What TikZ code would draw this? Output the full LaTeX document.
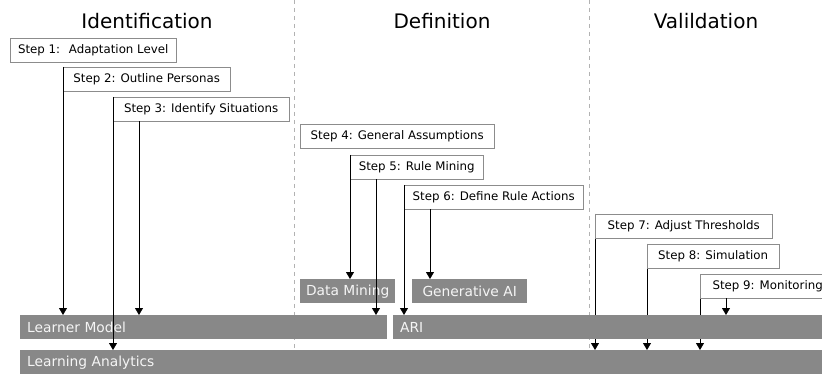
\documentclass[tikz,border=0pt]{standalone}
\usepackage{fontspec}
\setmainfont{DejaVu Sans}
\usetikzlibrary{arrows.meta}
\definecolor{barGray}{HTML}{888888}
\pgfdeclarelayer{background}
\pgfsetlayers{background,main}

\begin{document}
\begin{tikzpicture}[x=1pt, y=-1pt,
    stepbox/.style={draw=black!45, fill=white, anchor=north west, minimum height=24pt, inner sep=0pt, font=\fontsize{11.8}{14}\selectfont},
    bar/.style={fill=barGray, text=black!4, anchor=north west, minimum height=24pt, inner sep=0pt, font=\fontsize{13.8}{16}\selectfont},
    wide bar/.style={bar, align=left, text width=#1, inner xsep=7pt},
    phase/.style={anchor=base, font=\fontsize{20}{24}\selectfont},
    divider/.style={draw=black!30, dash pattern=on 4pt off 4pt},
    arr/.style={-{Triangle[width=8pt,length=7pt]}, line width=0.8pt}]

    \useasboundingbox (0,0) rectangle (822,374);

    % Phases:
    \draw[divider] (294,0) -- (294,374);
    \draw[divider] (589,0) -- (589,374);
    \node[phase] (idf) at (147,29) {Identification};
    \node[phase] (def) at (442,29) {Definition};
    \node[phase] (val) at (706,29) {Valildation};

    % Steps:
    \node[stepbox, minimum width=166pt] (s1) at (10,38) {Step 1:~ Adaptation Level};
    \node[stepbox, minimum width=167pt] (s2) at (63,67) {Step 2: Outline Personas};
    \node[stepbox, minimum width=176pt] (s3) at (113,97) {Step 3: Identify Situations};
    \node[stepbox, minimum width=194pt] (s4) at (300,124) {Step 4: General Assumptions};
    \node[stepbox, minimum width=133pt] (s5) at (350,155) {Step 5: Rule Mining};
    \node[stepbox, minimum width=179pt] (s6) at (404,185) {Step 6: Define Rule Actions};
    \node[stepbox, minimum width=177pt] (s7) at (595,214) {Step 7: Adjust Thresholds};
    \node[stepbox, minimum width=132pt] (s8) at (647,244) {Step 8: Simulation};
    \node[stepbox, minimum width=135pt] (s9) at (700,274) {Step 9: Monitoring};

    % Components:
    \node[bar, minimum width=95pt] (dm) at (300,279) {Data Mining};
    \node[bar, minimum width=115pt] (gai) at (412,279) {Generative AI};
    \node[wide bar=353pt] (lm) at (20,315) {Learner Model};
    \node[wide bar=415pt] (ari) at (393,315) {ARI};
    \node[wide bar=788pt] (la) at (20,350) {Learning Analytics};

    % Arrows:
    \draw[arr] (s2.north west) -- (s2.north west |- lm.north);
    \draw[arr] (s3.north west) -- (s3.north west |- la.north);
    \draw[arr] ([xshift=26pt]s3.south west) -- ([xshift=26pt]s3.south west |- lm.north);
    \draw[arr] (s5.north west) -- (s5.north west |- dm.north);
    \draw[arr] ([xshift=26pt]s5.south west) -- ([xshift=26pt]s5.south west |- lm.north);
    \draw[arr] (s6.north west) -- (s6.north west |- ari.north);
    \draw[arr] ([xshift=26pt]s6.south west) -- ([xshift=26pt]s6.south west |- gai.north);
    \draw[arr] ([xshift=26pt]s9.south west) -- ([xshift=26pt]s9.south west |- ari.north);
    \begin{pgfonlayer}{background}
        \draw[arr] (s7.north west) -- (s7.north west |- la.north);
        \draw[arr] (s8.north west) -- (s8.north west |- la.north);
        \draw[arr] (s9.north west) -- (s9.north west |- la.north);
    \end{pgfonlayer}
\end{tikzpicture}
\end{document}
